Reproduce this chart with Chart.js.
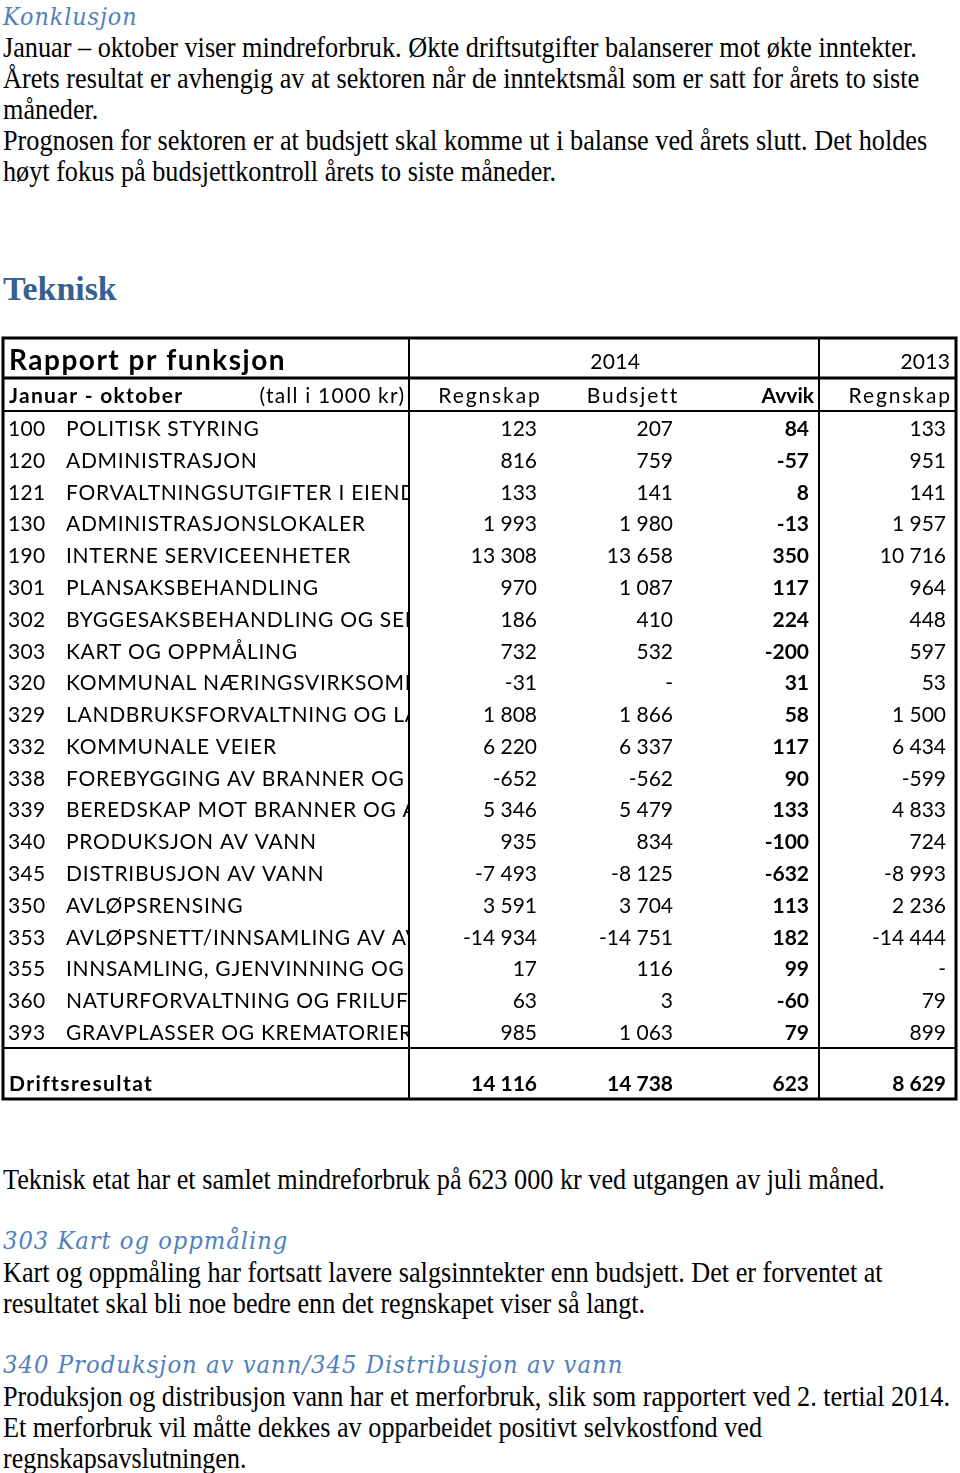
<!DOCTYPE html>
<html><head><meta charset="utf-8">
<script src="https://cdn.jsdelivr.net/npm/chart.js@4.4.1/dist/chart.umd.min.js"></script>
<style>
html,body{margin:0;padding:0;background:#fff;}
body{width:960px;height:1473px;overflow:hidden;position:relative;}
.ln{position:absolute;white-space:nowrap;transform-origin:0 0;}
.bd{font-family:"Liberation Serif","Times New Roman",serif;font-size:29px;line-height:31px;color:#000;}
.hi{font-family:"DejaVu Serif",serif;font-style:italic;font-size:24px;line-height:30px;color:#4f81bd;letter-spacing:1px;}
.hb{font-family:"Liberation Serif",serif;font-weight:bold;font-size:33px;line-height:36px;color:#376092;}
#wrap{position:absolute;left:0;top:330px;width:960px;height:780px;}
</style></head>
<body>
<div id="texts"></div>
<div id="wrap"><canvas id="c" width="960" height="780"></canvas></div>
<script>
// ---------- data ----------
const codes = ['100','120','121','130','190','301','302','303','320','329','332','338','339','340','345','350','353','355','360','393'];
const names = ['POLITISK STYRING','ADMINISTRASJON','FORVALTNINGSUTGIFTER I EIENDOMSFORVALTNINGEN','ADMINISTRASJONSLOKALER','INTERNE SERVICEENHETER','PLANSAKSBEHANDLING','BYGGESAKSBEHANDLING OG SEKSJONERING','KART OG OPPMÅLING','KOMMUNAL NÆRINGSVIRKSOMHET','LANDBRUKSFORVALTNING OG LANDBRUKSBASERT NÆRINGSUTVIKLING','KOMMUNALE VEIER','FOREBYGGING AV BRANNER OG ANDRE ULYKKER','BEREDSKAP MOT BRANNER OG ANDRE ULYKKER','PRODUKSJON AV VANN','DISTRIBUSJON AV VANN','AVLØPSRENSING','AVLØPSNETT/INNSAMLING AV AVLØPSVANN','INNSAMLING, GJENVINNING OG SLUTTBEHANDLING AV AVFALL','NATURFORVALTNING OG FRILUFTSLIV','GRAVPLASSER OG KREMATORIER'];
const regnskap2014 = [123,816,133,1993,13308,970,186,732,-31,1808,6220,-652,5346,935,-7493,3591,-14934,17,63,985];
const budsjett2014 = [207,759,141,1980,13658,1087,410,532,null,1866,6337,-562,5479,834,-8125,3704,-14751,116,3,1063];
const avvik2014 = [84,-57,8,-13,350,117,224,-200,31,58,117,90,133,-100,-632,113,182,99,-60,79];
const regnskap2013 = [133,951,141,1957,10716,964,448,597,53,1500,6434,-599,4833,724,-8993,2236,-14444,null,79,899];
const totals = [14116,14738,623,8629];
const yearLabels = ['2014','2013'];
const columnHeaders = ['Regnskap','Budsjett','Avvik','Regnskap'];
const tableTitle = 'Rapport pr funksjon';
const periodLabel = 'Januar - oktober';
const unitLabel = '(tall i 1000 kr)';
const totalLabel = 'Driftsresultat';

// ---------- page text ----------
const lines = [
 ['hi','Konklusjon',3,2,135],
 ['bd','Januar – oktober viser mindreforbruk. Økte driftsutgifter balanserer mot økte inntekter.',3,32,914],
 ['bd','Årets resultat er avhengig av at sektoren når de inntektsmål som er satt for årets to siste',3,63,916],
 ['bd','måneder.',3,94,95],
 ['bd','Prognosen for sektoren er at budsjett skal komme ut i balanse ved årets slutt. Det holdes',3,125,924],
 ['bd','høyt fokus på budsjettkontroll årets to siste måneder.',3,156,553],
 ['hb','Teknisk',3,271,114],
 ['bd','Teknisk etat har et samlet mindreforbruk på 623 000 kr ved utgangen av juli måned.',3,1164,882],
 ['hi','303 Kart og oppmåling',3,1226,285],
 ['bd','Kart og oppmåling har fortsatt lavere salgsinntekter enn budsjett. Det er forventet at',3,1257,880],
 ['bd','resultatet skal bli noe bedre enn det regnskapet viser så langt.',3,1288,642],
 ['hi','340 Produksjon av vann/345 Distribusjon av vann',3,1350,620],
 ['bd','Produksjon og distribusjon vann har et merforbruk, slik som rapportert ved 2. tertial 2014.',3,1381,947],
 ['bd','Et merforbruk vil måtte dekkes av opparbeidet positivt selvkostfond ved',3,1412,759],
 ['bd','regnskapsavslutningen.',3,1443,243]
];
const tc = document.getElementById('texts');
lines.forEach(([cls,t,l,tp,w])=>{
  const d=document.createElement('div'); d.className='ln '+cls; d.textContent=t;
  d.style.left=l+'px'; d.style.top=tp+'px'; tc.appendChild(d);
  const mw=d.offsetWidth; if(mw>0) d.style.transform='scaleX('+(w/mw)+')';
});

// ---------- table layout ----------
const L = {left:3,right:956,div1:409,div2:819,code:8,name:66,cols:[537,673,809,946],
  top:338,titleLine:378,headLine:411,totalLine:1048,bottom:1099,
  titleBase:370,headBase:403,rowBase0:436,rowH:31.79,totalBase:1091,
  hdrCenters:[489,632],hdrRight:[814,950],year1:615,year2:950,unitRight:404};
const FONT='Lato, "Open Sans", sans-serif';
const fmt = v => {
  if(v===null||v===undefined) return '-';
  const s=String(Math.abs(v)).replace(/\B(?=(\d{3})+(?!\d))/g,' ');
  return (v<0?'-':'')+s;
};
const rowY = i => L.rowBase0 + i*L.rowH;
const mk = (xv, vals) => vals.map((v,i)=>({x:xv,y:rowY(i)}));
const datasets = [
  {label:'code', texts:codes, align:'left', bold:false, ls:0.3, data:mk(L.code,codes)},
  {label:'name', texts:names, align:'left', bold:false, ls:0.7, clip:true, data:mk(L.name,names)},
  {label:'r14', texts:regnskap2014.map(fmt), align:'right', bold:false, ls:0, data:mk(L.cols[0],regnskap2014)},
  {label:'b14', texts:budsjett2014.map(fmt), align:'right', bold:false, ls:0, data:mk(L.cols[1],budsjett2014)},
  {label:'a14', texts:avvik2014.map(fmt), align:'right', bold:true, ls:0, data:mk(L.cols[2],avvik2014)},
  {label:'r13', texts:regnskap2013.map(fmt), align:'right', bold:false, ls:0, data:mk(L.cols[3],regnskap2013)}
].map(d=>Object.assign(d,{pointRadius:0,showLine:false}));

const tablePlugin = {
  id:'tablePlugin',
  afterDraw(chart){
    const {ctx, scales:{x,y}} = chart;
    const px=v=>x.getPixelForValue(v), py=v=>y.getPixelForValue(v);
    ctx.save();
    ctx.strokeStyle='#000'; ctx.fillStyle='#000';
    const h=(yv,x0,x1,w)=>{ctx.lineWidth=w;ctx.beginPath();ctx.moveTo(px(x0),py(yv));ctx.lineTo(px(x1),py(yv));ctx.stroke();};
    const v=(xv,y0,y1,w)=>{ctx.lineWidth=w;ctx.beginPath();ctx.moveTo(px(xv),py(y0));ctx.lineTo(px(xv),py(y1));ctx.stroke();};
    h(L.titleLine,L.left,L.right,3);
    h(L.headLine,L.left,L.right,2);
    h(L.totalLine,L.left,L.right,2);
    v(L.div1,L.top,L.bottom,2);
    v(L.div2,L.top,L.bottom,2);
    ctx.lineWidth=3;
    ctx.strokeRect(px(L.left),py(L.top),px(L.right)-px(L.left),py(L.bottom)-py(L.top));
    const txt=(s,xv,yv,align,size,bold,ls)=>{
      ctx.font=(bold?'bold ':'')+size+'px '+FONT; ctx.letterSpacing=(ls||0)+'px';
      ctx.textAlign=align; ctx.textBaseline='alphabetic';
      // compensate trailing letter-spacing for right/centre aligned text
      const off = align==='right' ? (ls||0) : align==='center' ? (ls||0)/2 : 0;
      ctx.fillText(s,px(xv)+off,py(yv));
    };
    // title rows
    txt(tableTitle,L.code+1,L.titleBase,'left',28,true,1.5);
    txt(yearLabels[0],L.year1,L.titleBase-1,'center',21,false,0.3);
    txt(yearLabels[1],L.year2,L.titleBase-1,'right',21,false,0.3);
    txt(periodLabel,L.code+1,L.headBase,'left',21,true,1.3);
    txt(unitLabel,L.unitRight,L.headBase,'right',21,false,1.2);
    txt(columnHeaders[0],L.hdrCenters[0],L.headBase,'center',21,false,1.9);
    txt(columnHeaders[1],L.hdrCenters[1],L.headBase,'center',21,false,1.9);
    txt(columnHeaders[2],L.hdrRight[0],L.headBase,'right',21,true,0);
    txt(columnHeaders[3],L.hdrRight[1],L.headBase,'right',21,false,1.9);
    // cells
    chart.data.datasets.forEach((ds,di)=>{
      const meta=chart.getDatasetMeta(di);
      ctx.save();
      if(ds.clip){ctx.beginPath();ctx.rect(px(L.left),py(L.headLine),px(L.div1)-px(L.left)-1,py(L.totalLine)-py(L.headLine));ctx.clip();}
      ctx.font=(ds.bold?'bold ':'')+'21px '+FONT; ctx.letterSpacing=ds.ls+'px';
      ctx.textAlign=ds.align; ctx.textBaseline='alphabetic';
      meta.data.forEach((el,i)=>ctx.fillText(ds.texts[i],el.x,el.y));
      ctx.restore();
    });
    // totals
    txt(totalLabel,L.code+1,L.totalBase,'left',21,true,1.4);
    totals.forEach((t,j)=>txt(fmt(t),L.cols[j],L.totalBase,'right',21,true,0));
    ctx.restore();
  }
};

new Chart(document.getElementById('c'),{
  type:'scatter',
  data:{datasets},
  options:{responsive:false,animation:false,events:[],
    layout:{padding:0},
    plugins:{legend:{display:false},tooltip:{enabled:false},title:{display:false}},
    scales:{x:{type:'linear',min:0,max:960,display:false},
            y:{type:'linear',min:330,max:1110,reverse:true,display:false}}},
  plugins:[tablePlugin]
});
</script>
</body></html>
